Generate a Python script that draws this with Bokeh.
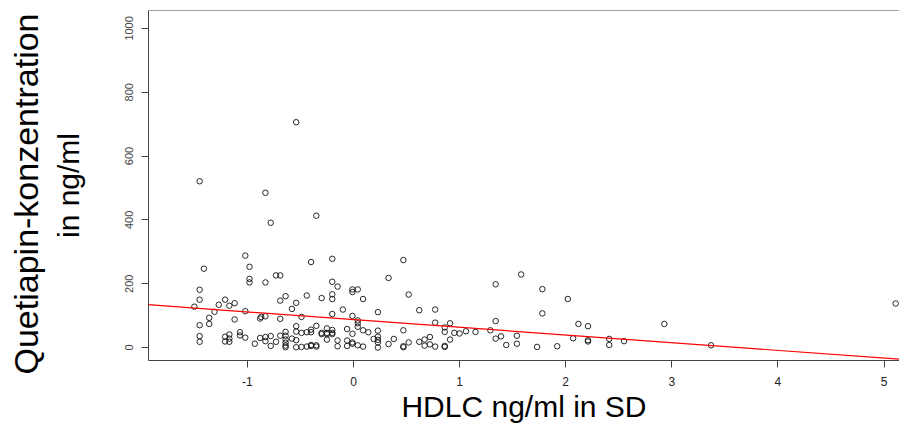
from bokeh.plotting import figure
from bokeh.models import Range1d, FixedTicker, Slope, Span, Title
from bokeh.embed import file_html
from bokeh.resources import INLINE

# HDLC (SD units) and Quetiapin concentration (ng/ml)
hdlc = [
    -1.50, -1.45, -1.45, -1.45, -1.45, -1.45, -1.45, -1.41, -1.36, -1.36,
    -1.31, -1.27, -1.21, -1.21, -1.21, -1.17, -1.17, -1.17, -1.17, -1.12,
    -1.12, -1.07, -1.07, -1.02, -1.02, -1.02, -0.98, -0.98, -0.98, -0.93,
    -0.88, -0.87, -0.88, -0.83, -0.83, -0.83, -0.83, -0.83, -0.78, -0.78,
    -0.78, -0.73, -0.73, -0.69, -0.69, -0.69, -0.69, -0.64, -0.64, -0.64,
    -0.64, -0.64, -0.64, -0.64, -0.58, -0.58, -0.54, -0.54, -0.54, -0.54,
    -0.54, -0.54, -0.49, -0.49, -0.49, -0.44, -0.44, -0.44, -0.40, -0.40,
    -0.40, -0.40, -0.40, -0.35, -0.35, -0.35, -0.35, -0.30, -0.30, -0.30,
    -0.25, -0.25, -0.25, -0.25, -0.20, -0.20, -0.20, -0.20, -0.20, -0.20,
    -0.20, -0.20, -0.15, -0.15, -0.15, -0.10, -0.06, -0.06, -0.06, -0.01,
    -0.01, -0.01, -0.01, -0.01, -0.01, 0.04, 0.04, 0.04, 0.04, 0.04,
    0.09, 0.09, 0.09, 0.14, 0.19, 0.23, 0.23, 0.23, 0.23, 0.23,
    0.23, 0.33, 0.33, 0.38, 0.47, 0.47, 0.47, 0.47, 0.52, 0.52,
    0.62, 0.62, 0.67, 0.67, 0.72, 0.72, 0.77, 0.77, 0.77, 0.86,
    0.86, 0.86, 0.86, 0.91, 0.91, 0.95, 1.00, 1.06, 1.15, 1.29,
    1.34, 1.34, 1.34, 1.39, 1.44, 1.54, 1.54, 1.58, 1.73, 1.78,
    1.78, 1.92, 2.02, 2.07, 2.12, 2.21, 2.21, 2.21, 2.41, 2.41,
    2.55, 2.93, 3.37, 5.11,
]
quetiapin = [
    128, 521, 181, 150, 70, 36, 18, 247, 93, 74,
    112, 134, 150, 34, 19, 131, 41, 28, 18, 139,
    88, 48, 38, 288, 114, 31, 253, 215, 204, 12,
    91, 96, 30, 98, 485, 204, 33, 20, 391, 36,
    5, 226, 18, 226, 147, 90, 37, 161, 49, 37,
    25, 15, 6, 1, 121, 28, 706, 140, 67, 50,
    23, 1, 96, 46, 2, 163, 48, 3, 268, 56,
    48, 5, 8, 413, 68, 3, 7, 155, 46, 42,
    60, 46, 42, 25, 278, 206, 167, 152, 105, 55,
    46, 42, 191, 22, 4, 119, 58, 22, 5, 182,
    174, 99, 43, 16, 12, 182, 85, 76, 65, 7,
    152, 54, 3, 48, 27, 111, 53, 34, 24, 16,
    0, 218, 11, 27, 274, 54, 4, 1, 166, 16,
    117, 18, 25, 6, 33, 10, 119, 78, 3, 63,
    49, 5, 2, 76, 25, 46, 44, 51, 49, 54,
    198, 83, 28, 35, 8, 37, 12, 229, 2, 183,
    107, 4, 152, 29, 74, 67, 23, 19, 27, 8,
    20, 74, 7, 138,
]

# linear regression line (as drawn in the picture)
fit_intercept = 87.5
fit_slope = -24.1

x_ticks = [-1, 0, 1, 2, 3, 4, 5]
y_ticks = [0, 200, 400, 600, 800, 1000]

x_title = "HDLC ng/ml in SD"
y_title_1 = "Quetiapin-konzentration"
y_title_2 = "in ng/ml"

FONT = "'Liberation Sans', Arial, sans-serif"
NARROW = "'Liberation Sans Narrow', 'Liberation Sans', Arial, sans-serif"

p = figure(
    width=899, height=425,
    x_range=Range1d(-1.932, 5.146), y_range=Range1d(-40.6, 1056),
    output_backend="svg", toolbar_location=None,
    min_border_left=148, min_border_top=10, min_border_right=0, min_border_bottom=64,
)
p.background_fill_color = "white"
p.border_fill_color = "white"
p.outline_line_color = None
p.grid.visible = False

# axes
for ax in (p.xaxis[0], p.yaxis[0]):
    ax.axis_line_color = "#444444"
    ax.axis_line_width = 1
    ax.major_tick_line_color = "#444444"
    ax.major_tick_out = 7
    ax.major_tick_in = 0
    ax.minor_tick_line_color = None
    ax.major_label_text_font = FONT
    ax.major_label_text_font_size = "11px"

p.xaxis.ticker = FixedTicker(ticks=x_ticks)
p.yaxis.ticker = FixedTicker(ticks=y_ticks)
p.xaxis.major_label_overrides = {t: str(t) for t in x_ticks}
p.xaxis.major_label_text_color = "#222222"
p.xaxis.major_label_text_font = NARROW
p.xaxis.major_label_text_font_size = "12px"
p.xaxis.major_label_standoff = 9
p.yaxis.major_label_text_color = "#444444"
p.yaxis.major_label_orientation = "vertical"
p.yaxis.major_label_standoff = 8

p.xaxis.axis_label = x_title
p.xaxis.axis_label_text_font = NARROW
p.xaxis.axis_label_text_font_size = "30px"
p.xaxis.axis_label_text_font_style = "normal"
p.xaxis.axis_label_text_color = "black"
p.xaxis.axis_label_standoff = 1

p.yaxis.axis_label = y_title_2
p.yaxis.axis_label_text_font = FONT
p.yaxis.axis_label_text_font_size = "30px"
p.yaxis.axis_label_text_font_style = "normal"
p.yaxis.axis_label_text_color = "black"
p.yaxis.axis_label_standoff = 38

t = Title(text=y_title_1, align="left", text_font=FONT, text_font_size="34px",
          text_font_style="normal", text_color="black", standoff=7, offset=-14)
p.add_layout(t, "left")

# top frame line
p.add_layout(Span(location=1056, dimension="width", line_color="#444444", line_width=1))

# data
p.scatter(hdlc, quetiapin, marker="circle", size=5.5, fill_color=None,
          line_color="#111111", line_width=0.9)
p.add_layout(Slope(gradient=fit_slope, y_intercept=fit_intercept,
                   line_color="red", line_width=1.2))

open("out.html", "w").write(file_html(p, INLINE))
